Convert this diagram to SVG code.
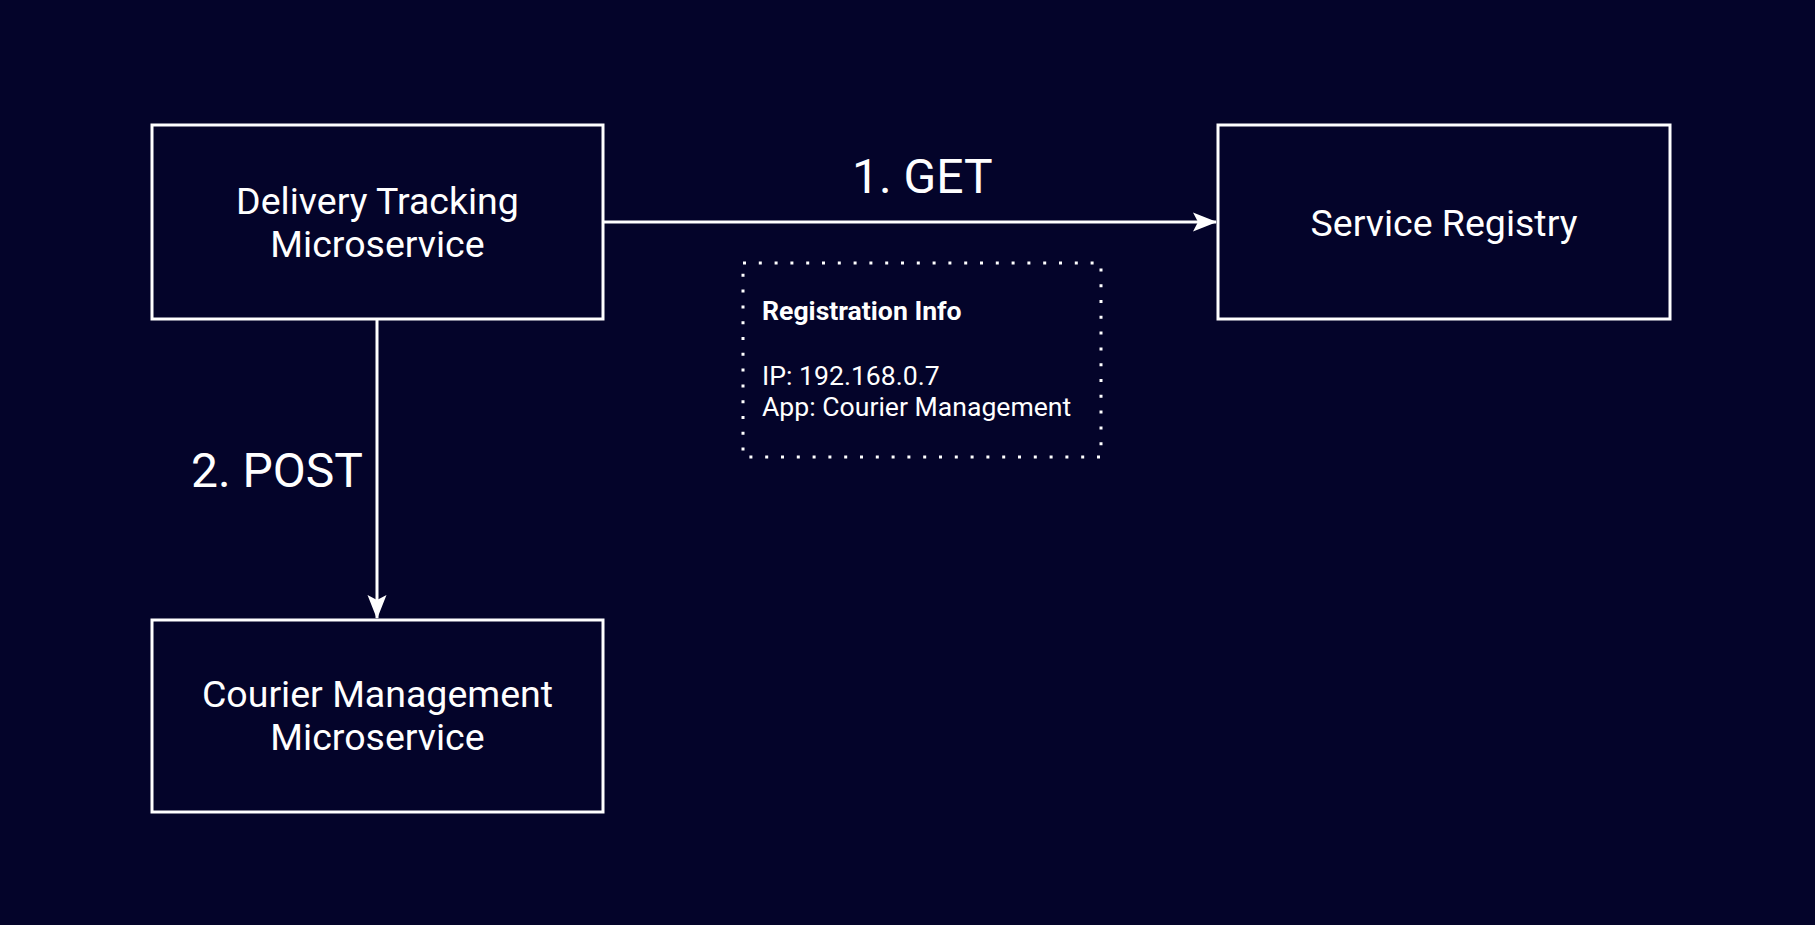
<svg xmlns="http://www.w3.org/2000/svg" width="1815" height="925" viewBox="0 0 1815 925">
<defs>
<style>
.node{fill:#04042a;stroke:#ffffff;stroke-width:3}
.lbl{font-family:Roboto,"Liberation Sans",sans-serif;fill:#ffffff;font-size:37.5px;text-anchor:middle}
.edge{stroke:#ffffff;stroke-width:3;fill:none}
.elbl{font-family:Roboto,"Liberation Sans",sans-serif;fill:#ffffff;font-size:48px}
.note{font-family:Roboto,"Liberation Sans",sans-serif;fill:#ffffff;font-size:26.6px}
</style>
<marker id="arr" viewBox="0 0 24 20" refX="23" refY="10" markerWidth="24" markerHeight="20" markerUnits="userSpaceOnUse" orient="auto">
<path d="M0,0.5 L24,10 L0,19.5 L5,10 Z" fill="#ffffff"/>
</marker>
</defs>
<rect width="1815" height="925" fill="#04042a"/>
<g id="connectors">
<line class="edge" x1="603" y1="222" x2="1216" y2="222" marker-end="url(#arr)"/>
<line class="edge" x1="377" y1="319" x2="377" y2="618" marker-end="url(#arr)"/>
<text class="elbl" x="852" y="193">1. GET</text>
<text class="elbl" x="191" y="487">2. POST</text>
</g>
<g id="delivery-tracking">
<rect class="node" x="152" y="125" width="451" height="194"/>
<text class="lbl" x="377.5" y="214">Delivery Tracking</text>
<text class="lbl" x="377.5" y="257">Microservice</text>
</g>
<g id="service-registry">
<rect class="node" x="1218" y="125" width="452" height="194"/>
<text class="lbl" x="1444" y="236">Service Registry</text>
</g>
<g id="courier-management">
<rect class="node" x="152" y="620" width="451" height="192"/>
<text class="lbl" x="377.5" y="707">Courier Management</text>
<text class="lbl" x="377.5" y="750">Microservice</text>
</g>
<g id="registration-info">
<rect x="743" y="263" width="358" height="194" fill="none" stroke="#ffffff" stroke-width="3" stroke-dasharray="3 12.8"/>
<text class="note" x="762" y="320" font-weight="bold">Registration Info</text>
<text class="note" x="762" y="385">IP: 192.168.0.7</text>
<text class="note" x="762" y="416">App: Courier Management</text>
</g>
</svg>
